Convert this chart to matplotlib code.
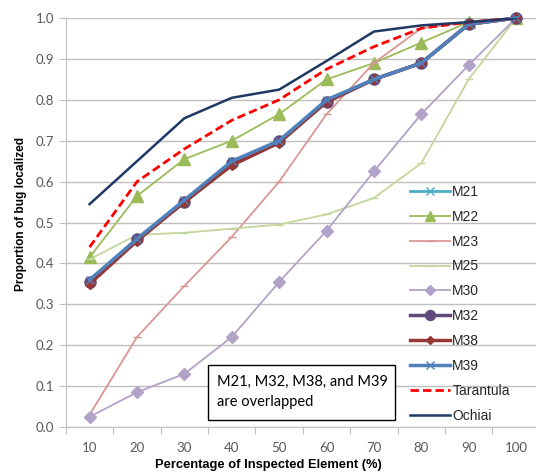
import matplotlib
matplotlib.use("Agg")
import matplotlib.pyplot as plt
from matplotlib.patches import Rectangle

# x categories (% inspected)
pct = [10, 20, 30, 40, 50, 60, 70, 80, 90, 100]

m21 = [0.355, 0.46, 0.55, 0.645, 0.70, 0.795, 0.85, 0.89, 0.985, 1.0]
m22 = [0.415, 0.565, 0.655, 0.70, 0.765, 0.85, 0.89, 0.94, 0.99, 1.0]
m23 = [0.03, 0.22, 0.345, 0.465, 0.60, 0.765, 0.89, 0.975, 0.99, 1.0]
m25 = [0.41, 0.47, 0.475, 0.485, 0.495, 0.52, 0.56, 0.645, 0.85, 1.0]
m30 = [0.025, 0.085, 0.13, 0.22, 0.355, 0.48, 0.625, 0.765, 0.885, 1.0]
m32 = [0.355, 0.46, 0.55, 0.645, 0.70, 0.795, 0.85, 0.89, 0.985, 1.0]
m38 = [0.35, 0.455, 0.55, 0.64, 0.695, 0.795, 0.85, 0.89, 0.985, 1.0]
m39 = [0.36, 0.46, 0.555, 0.65, 0.70, 0.80, 0.85, 0.89, 0.985, 1.0]
tarantula = [0.44, 0.60, 0.68, 0.75, 0.80, 0.875, 0.93, 0.975, 0.99, 1.0]
ochiai = [0.545, 0.65, 0.755, 0.805, 0.825, 0.895, 0.967, 0.982, 0.99, 1.0]

yticks = [0.0, 0.1, 0.2, 0.3, 0.4, 0.5, 0.6, 0.7, 0.8, 0.9, 1.0]

W, H = 536, 475
fig = plt.figure(figsize=(W / 100, H / 100), dpi=100)
ax = fig.add_axes([0.123, 0.101, 0.884, 0.861])

grid_col = "#bfbfbf"
tick_col = "#595959"

series = [
    ("M21", m21, dict(color="#4bacc6", marker="x", ms=6, lw=2)),
    ("M22", m22, dict(color="#9bbb59", marker="^", ms=8, lw=1.3)),
    ("M23", m23, dict(color="#d99694", marker="_", ms=6, lw=1.3)),
    ("M25", m25, dict(color="#c3d69b", marker="_", ms=6, lw=1.3)),
    ("M30", m30, dict(color="#b3a2c7", marker="D", ms=6, lw=1.3)),
    ("M32", m32, dict(color="#604a7b", marker="o", ms=8, lw=2.5)),
    ("M38", m38, dict(color="#953735", marker="D", ms=5, lw=2.5)),
    ("M39", m39, dict(color="#4f81bd", marker="x", ms=6, lw=2.5)),
]
for name, vals, st in series:
    ax.plot(pct, vals, label=name, clip_on=False, zorder=3, **st)

ax.plot(pct, tarantula, color="#ff0000", ls=(0, (3, 1.5)), lw=2, label="Tarantula", zorder=3)
ax.plot(pct, ochiai, color="#1f3864", lw=1.8, label="Ochiai", zorder=3)

ax.set_xlim(5, 105)
ax.set_ylim(0, 1.0)
ax.set_yticks(yticks)
ax.set_yticklabels([f"{v:.1f}" for v in yticks])
ax.set_xticks([5 + 10 * i for i in range(11)])
ax.set_xticklabels([])
ax.set_xticks(pct, minor=True)
ax.set_xticklabels([str(p) for p in pct], minor=True)
ax.tick_params(axis="x", which="major", length=5, color=grid_col, direction="out")
ax.tick_params(axis="x", which="minor", length=0, pad=11, labelsize=9.5, labelcolor=tick_col)
ax.tick_params(axis="y", length=5, color=grid_col, labelsize=9.5, labelcolor=tick_col)
for lab in ax.get_xticklabels(minor=True) + ax.get_yticklabels():
    lab.set_family("Lato")

ax.grid(axis="y", color=grid_col, lw=1)
ax.set_axisbelow(True)
for s in ["top", "right"]:
    ax.spines[s].set_visible(False)
ax.spines["left"].set_color(grid_col)
ax.spines["bottom"].set_color(grid_col)

# axis titles placed by hand (the Excel plot area runs past the right edge)
fig.text(268 / W, 1 - 465 / H, "Percentage of Inspected Element (%)", fontsize=9.3,
         fontweight="bold", family="Liberation Sans", ha="center", va="center")
fig.text(21 / W, 1 - 214 / H, "Proportion of bug localized", fontsize=8.6,
         fontweight="bold", family="Liberation Sans", ha="center", va="center", rotation=90)

leg = ax.legend(loc="upper left", bbox_to_anchor=(410 / W, 1 - 185 / H),
                bbox_transform=fig.transFigure, frameon=False, fontsize=10,
                handlelength=2.9, handletextpad=0.15, labelspacing=0.78,
                borderpad=0, borderaxespad=0, markerscale=0.9)
for t in leg.get_texts():
    t.set_family("Liberation Sans")
    t.set_color("#262626")

# note box
fig.patches.append(Rectangle((208 / W, 1 - 420 / H), 187 / W, 55 / H, transform=fig.transFigure,
                             fc="white", ec="black", lw=1, zorder=5))
fig.text(217 / W, 1 - 392 / H, "M21, M32, M38, and M39\nare overlapped",
         fontsize=10.5, family="Lato", va="center", ha="left", linespacing=1.6, zorder=6)

fig.savefig("out.png", dpi=100)
